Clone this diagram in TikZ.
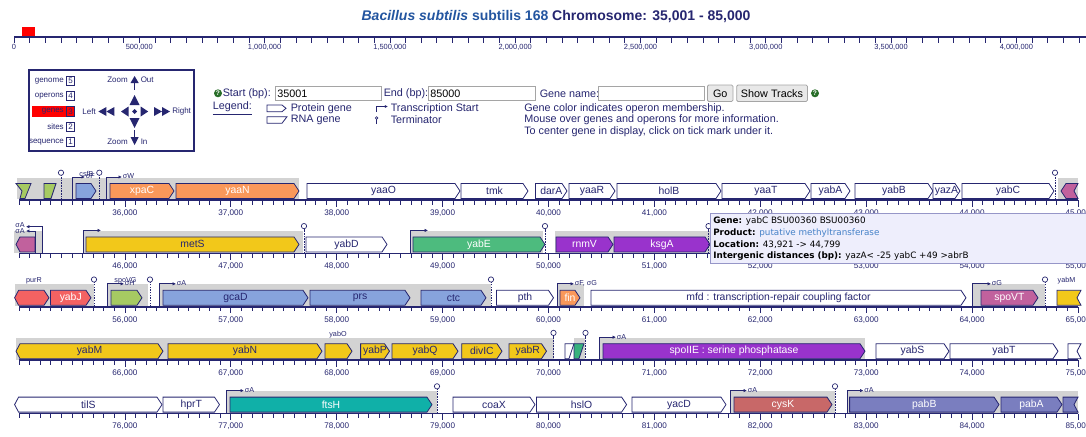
\documentclass[tikz,border=0pt]{standalone}
\usepackage{fontspec}
\setmainfont{Liberation Sans}
\newfontfamily\dvs{DejaVu Sans}
\usetikzlibrary{arrows.meta}
\definecolor{nv}{RGB}{38,38,112}
\definecolor{opg}{RGB}{211,211,211}
\definecolor{cor}{RGB}{250,152,90}
\definecolor{cye}{RGB}{242,200,26}
\definecolor{clb}{RGB}{135,163,220}
\definecolor{clg}{RGB}{166,202,98}
\definecolor{cgr}{RGB}{77,187,126}
\definecolor{cpu}{RGB}{153,51,204}
\definecolor{cpk}{RGB}{193,97,157}
\definecolor{crd}{RGB}{244,98,98}
\definecolor{ctl}{RGB}{16,176,168}
\definecolor{cck}{RGB}{200,104,104}
\definecolor{cpb}{RGB}{122,126,191}
\definecolor{crg}{RGB}{55,178,125}
\definecolor{tblue}{RGB}{35,85,160}
\definecolor{ttf}{RGB}{238,238,252}
\definecolor{ttb}{RGB}{150,150,200}
\definecolor{qgreen}{RGB}{40,110,40}
\definecolor{pblue}{RGB}{70,130,200}
\definecolor{inpb}{RGB}{165,165,165}
\definecolor{btnf}{RGB}{232,232,232}
\tikzset{
  x=0.75pt, y=-0.75pt,
  gl/.style={draw=nv, line width=0.6pt, line join=miter},
  gtext/.style={font=\fontsize{7.8}{8}\selectfont, inner sep=0pt, anchor=center},
  small/.style={font=\fontsize{5.4}{6}\selectfont, text=nv, inner sep=0pt},
  ticklab/.style={font=\fontsize{6.1}{7}\selectfont, text=nv, inner sep=0pt},
  toplab/.style={font=\fontsize{5.6}{6}\selectfont, text=nv, inner sep=0pt},
  prom/.style={draw=nv, line width=0.5pt, -{Latex[length=2.6pt,width=2.6pt]}},
  termst/.style={draw=nv, line width=0.5pt, dash pattern=on 1.2pt off 0.8pt},
  pl/.style={font=\fontsize{6}{7}\selectfont, text=nv, inner sep=0pt},
  ft/.style={font=\fontsize{8.1}{9}\selectfont, text=nv, inner sep=0pt},
  inp/.style={draw=inpb, fill=white, line width=0.6pt},
  btn/.style={draw=inpb, fill=btnf, line width=0.6pt, rounded corners=1pt},
  tt/.style={font=\dvs\fontsize{6.6}{7}\selectfont, text=black, inner sep=0pt, anchor=west},
}
\newcommand\gene[9]{%
  \pgfmathsetmacro\gT{#1-16.5}%
  \pgfmathsetmacro\gB{#1-1.5}%
  \pgfmathsetmacro\gM{#1-9}%
  \edef\gpath{\ifcase#4 (#2,\gT)\or(#2+5,\gT)\or(#2+4,\gT)\or(#2,\gT)\fi
   \ifcase#5 --(#3,\gT)--(#3,\gB)\or--(#3-5,\gT)--(#3,\gM)--(#3-5,\gB)\or--(#3,\gT)--(#3-4,\gM)--(#3,\gB)\or--(#3-4,\gT)--(#3,\gM)--(#3-4,\gB)\fi
   \ifcase#4 --(#2,\gB)\or--(#2+5,\gB)--(#2,\gM)\or--(#2+4,\gB)--(#2,\gM)\or--(#2,\gB)--(#2+4,\gM)\fi
   --cycle}%
  \draw[gl,fill=#6] \gpath;%
  \node[gtext,text=#7] (#9) at ({(#2+#3)/2},\gM) {#8};%
}
\newcommand\rna[4]{\draw[gl,fill=#4] (#2,#1-16.5) -- (#3,#1-16.5) -- (#3-5,#1-1.5) -- (#2,#1-1.5) -- cycle;}
\newcommand\opr[3]{\fill[opg] (#2,#1-22.5) rectangle (#3,#1-0.6);}
\newcommand\prm[5]{\draw[prom] (#2,#1) -- (#2,#1-23) -- (#3,#1-23);
  \node[small,anchor=west] (#5) at (#3+0.6,#1-23.6) {#4};}
\newcommand\trm[2]{\draw[termst] (#2,#1) -- (#2,#1-24.6);
  \draw[nv,line width=0.5pt,fill=white] (#2,#1-27.3) circle[radius=2pt];}
\newcommand\trackruler[2]{%
  \draw[nv,line width=1.3pt] (19,#1) -- (1078,#1);
  \foreach \i in {0,...,100}{\draw[nv,line width=0.5pt] ({19+\i*10.59},#1) -- ({19+\i*10.59},#1+4.5);}
  \foreach \i in {1,...,10}{\pgfmathtruncatemacro\kk{#2+\i}%
    \draw[nv,line width=0.6pt] ({19+\i*105.9},#1) -- ({19+\i*105.9},#1+6.5);
    \node[ticklab] (t\kk) at ({19+\i*105.9},#1+13) {\kk,000};}%
}
\begin{document}
\begin{tikzpicture}
\useasboundingbox (0,0) rectangle (1086,436);
\fill[white] (0,0) rectangle (1086,436);

% ---------- title and genome ruler
\node[inner sep=0pt, font=\fontsize{10.5}{12}\selectfont\bfseries] (title) at (556,16.5)
  {\textcolor{tblue}{\itshape Bacillus subtilis} \textcolor{tblue}{subtilis 168} \textcolor{nv}{Chromosome: 35,001 - 85,000}};
\fill[red] (22,26.5) rectangle (35,37);
\draw[nv,line width=2pt] (14,37) -- (1086,37);
\foreach \i in {0,...,68}{\draw[nv,line width=0.5pt] ({14+\i*15.66},38) -- ({14+\i*15.66},42.5);}
\foreach \i/\t in {0/0,1/{500,000},2/{1,000,000},3/{1,500,000},4/{2,000,000},5/{2,500,000},6/{3,000,000},7/{3,500,000},8/{4,000,000}}
  {\node[toplab] (r\i) at ({14+\i*125.3},47) {\t};}

% ---------- navigation panel
\draw[nv,line width=0.8pt] (29,70) rectangle (194,151);
\fill[red] (32,106.3) rectangle (74.5,116.5);
\foreach \t/\n/\yy in {genome/5/80.7,operons/4/96,genes/3/111.4,sites/2/126.6,sequence/1/141.9}{
  \node[pl,anchor=east] (pn\n) at (64,\yy) {\t};
  \draw[nv,line width=0.6pt] (66.5,\yy-4.6) rectangle (74.5,\yy+4.6);
  \node[pl] (pb\n) at (70.5,\yy) {\n};
}
\node[pl,anchor=east] (zo) at (128,80) {Zoom};
\fill[nv] (130.5,83) -- (138.7,83) -- (134.6,76) -- cycle;
\fill[nv] (133.8,82) rectangle (135.4,89.5);
\node[pl,anchor=west] (zout) at (140.5,80) {Out};
\node[pl,anchor=east] (lft) at (96,111.5) {Left};
\fill[nv] (98.4,111.5) -- (106.4,107) -- (106.4,116) -- cycle;
\fill[nv] (106.4,111.5) -- (114.4,107) -- (114.4,116) -- cycle;
\fill[nv] (121,111.5) -- (128.5,106.5) -- (128.5,116.5) -- cycle;
\fill[nv] (134.6,109) -- (137.1,111.5) -- (134.6,114) -- (132.1,111.5) -- cycle;
\fill[nv] (148.2,111.5) -- (140.7,106.5) -- (140.7,116.5) -- cycle;
\fill[nv] (162,111.5) -- (154,107) -- (154,116) -- cycle;
\fill[nv] (170,111.5) -- (162,107) -- (162,116) -- cycle;
\node[pl,anchor=west] (rgt) at (172,111.5) {Right};
\fill[nv] (129.6,105) -- (139.6,105) -- (134.6,95) -- cycle;
\fill[nv] (129.6,118) -- (139.6,118) -- (134.6,128) -- cycle;
\fill[nv] (133.8,130) rectangle (135.4,138);
\fill[nv] (130.5,137) -- (138.7,137) -- (134.6,145) -- cycle;
\node[pl,anchor=east] (zi) at (128,141.7) {Zoom};
\node[pl,anchor=west] (zin) at (140.5,141.7) {In};

% ---------- form
\fill[qgreen] (218,93.3) circle[radius=3pt];
\node[inner sep=0pt,text=white,font=\fontsize{5}{5}\selectfont\bfseries] (q1) at (218,93.3) {?};
\node[ft,anchor=west] (st) at (222.5,93.3) {Start (bp):};
\draw[inp] (275,86) rectangle (381,100.7);
\node[ft,anchor=west,text=black] (v1) at (277,93.3) {35001};
\node[ft,anchor=west] (en) at (383.5,93.3) {End (bp):};
\draw[inp] (428,86) rectangle (535.6,100.7);
\node[ft,anchor=west,text=black] (v2) at (430,93.3) {85000};
\node[ft,anchor=west] (gn) at (539.5,93.3) {Gene name:};
\draw[inp] (598,86) rectangle (704,100.7);
\draw[btn] (707.4,85) rectangle (733,101.5);
\node[ft,text=black] (go) at (720.2,93.3) {Go};
\draw[btn] (736.7,85) rectangle (807.4,101.5);
\node[ft,text=black] (sh) at (772,93.3) {Show Tracks};
\fill[qgreen] (815,93.3) circle[radius=3pt];
\node[inner sep=0pt,text=white,font=\fontsize{5}{5}\selectfont\bfseries] (q2) at (815,93.3) {?};

% ---------- legend
\node[ft,anchor=west] (leg) at (212.5,108.3) {\underline{Legend:}};
\draw[nv,line width=0.6pt] (267,105) -- (282,105) -- (286,108.3) -- (282,111.7) -- (267,111.7) -- cycle;
\node[ft,anchor=west] (lp) at (290.5,108.3) {Protein gene};
\draw[nv,line width=0.6pt] (267,116.7) -- (287,116.7) -- (282,123.3) -- (267,123.3) -- cycle;
\node[ft,anchor=west] (lr) at (290.5,120) {RNA gene};
\draw[nv,line width=0.6pt,-{Latex[length=2.4pt,width=2.4pt]}] (376,112) -- (376,106.5) -- (388,106.5);
\node[ft,anchor=west] (lt) at (390.5,108.3) {Transcription Start};
\draw[nv,line width=0.5pt] (376.6,124) -- (376.6,119.3);
\draw[nv,line width=0.5pt,fill=white] (376.6,118) circle[radius=1pt];
\node[ft,anchor=west] (lx) at (390.5,120) {Terminator};
\node[ft,anchor=west] (i1) at (524,108.3) {Gene color indicates operon membership.};
\node[ft,anchor=west] (i2) at (524,120) {Mouse over genes and operons for more information.};
\node[ft,anchor=west] (i3) at (524,131.3) {To center gene in display, click on tick mark under it.};

% ================= ROW 1 (base 200)
\opr{200}{17}{299}
\opr{200}{1058}{1078}
\trackruler{200}{35}
\draw[gl,fill=clg] (16,183.5) -- (31,183.5) -- (25,198.5) -- (20,198.5) -- (22,191) -- cycle;
\rna{200}{44}{56}{clg}
\trm{200}{61}
\prm{200}{72}{85}{σF}{pF1}
\gene{200}{76}{96}{0}{1}{clb}{nv}{}{g-csfB}
\node[small] (l-csfB) at (86.5,174) {csfB};
\trm{200}{99.3}
\prm{200}{106}{122}{σW}{pW1}
\gene{200}{110}{174}{0}{1}{cor}{white}{xpaC}{g-xpaC}
\gene{200}{176}{299}{0}{1}{cor}{white}{yaaN}{g-yaaN}
\gene{200}{307}{460}{0}{1}{white}{nv}{yaaO}{g-yaaO}
\gene{200}{461}{528}{0}{1}{white}{nv}{tmk}{g-tmk}
\gene{200}{535.5}{567}{0}{1}{white}{nv}{darA}{g-darA}
\gene{200}{569}{615}{0}{1}{white}{nv}{yaaR}{g-yaaR}
\gene{200}{617}{721}{0}{1}{white}{nv}{holB}{g-holB}
\gene{200}{722}{810}{0}{1}{white}{nv}{yaaT}{g-yaaT}
\gene{200}{811}{850}{0}{1}{white}{nv}{yabA}{g-yabA}
\gene{200}{855}{933}{0}{1}{white}{nv}{yabB}{g-yabB}
\gene{200}{933}{960}{0}{1}{white}{nv}{yazA}{g-yazA}
\gene{200}{962}{1054}{0}{1}{white}{nv}{yabC}{g-yabC}
\trm{200}{1055}
\gene{200}{1061}{1078}{1}{2}{cpk}{white}{}{g-abrB1}

% ================= ROW 2 (base 253.4)
\opr{253.4}{14}{42}
\opr{253.4}{83.6}{303}
\opr{253.4}{410}{543}
\opr{253.4}{555}{712}
\trackruler{253.4}{45}
\gene{253.4}{16}{35}{2}{0}{cpk}{white}{}{g-abrB2}
\draw[prom] (42,253.4) -- (42,226.7) -- (26,226.7);
\node[small,anchor=east] (sA1) at (25,225.2) {σA};
\draw[prom] (35,253.4) -- (35,231) -- (26,231);
\node[small,anchor=east] (sA2) at (25,231) {σA};
\prm{253.4}{83.6}{101}{}{pN1}
\gene{253.4}{86}{299}{0}{1}{cye}{nv}{metS}{g-metS}
\trm{253.4}{304}
\gene{253.4}{306}{387}{0}{1}{white}{nv}{yabD}{g-yabD}
\prm{253.4}{410}{428}{}{pN2}
\gene{253.4}{413}{545}{0}{1}{cgr}{white}{yabE}{g-yabE}
\trm{253.4}{545}
\gene{253.4}{556}{613}{0}{1}{cpu}{white}{rnmV}{g-rnmV}
\gene{253.4}{614}{710}{0}{1}{cpu}{white}{ksgA}{g-ksgA}
\trm{253.4}{708.5}

% ================= ROW 3 (base 306.8)
\opr{306.8}{14.6}{94}
\opr{306.8}{107}{148}
\opr{306.8}{159.6}{491}
\opr{306.8}{557}{584}
\opr{306.8}{972}{1045}
\trackruler{306.8}{55}
\node[small] (l-purR) at (34,280.5) {purR};
\gene{306.8}{14.6}{49}{2}{1}{crd}{white}{}{g-purR}
\gene{306.8}{50.5}{91}{0}{1}{crd}{white}{yabJ}{g-yabJ}
\trm{306.8}{94}
\prm{306.8}{107}{124}{σH}{pH1}
\gene{306.8}{111}{142}{0}{1}{clg}{white}{}{g-spoVG}
\node[small] (l-spoVG) at (125.5,280.5) {spoVG};
\trm{306.8}{150}
\prm{306.8}{159.6}{176}{σA}{pA1}
\gene{306.8}{163}{308}{0}{1}{clb}{nv}{gcaD}{g-gcaD}
\gene{306.8}{310}{410}{0}{1}{clb}{nv}{prs}{g-prs}
\gene{306.8}{421}{486}{0}{1}{clb}{nv}{ctc}{g-ctc}
\trm{306.8}{491}
\gene{306.8}{496.5}{553.5}{0}{1}{white}{nv}{pth}{g-pth}
\prm{306.8}{557}{574}{σF, σG}{pFG}
\gene{306.8}{560}{580}{0}{1}{cor}{white}{fin}{g-fin}
\gene{306.8}{591}{966}{0}{1}{white}{nv}{mfd : transcription-repair coupling factor}{g-mfd}
\prm{306.8}{972}{991}{σG}{pG1}
\gene{306.8}{981}{1038}{0}{1}{cpk}{white}{spoVT}{g-spoVT}
\trm{306.8}{1045}
\gene{306.8}{1057}{1081}{0}{2}{cye}{nv}{}{g-yabM1}
\node[small] (l-yabM) at (1066.5,281) {yabM};

% ================= ROW 4 (base 360.2)
\opr{360.2}{16}{553.5}
\opr{360.2}{574}{585}
\opr{360.2}{599.4}{865}
\trackruler{360.2}{65}
\gene{360.2}{16}{163}{2}{1}{cye}{nv}{yabM}{g-yabM2}
\gene{360.2}{168}{322}{0}{1}{cye}{nv}{yabN}{g-yabN}
\node[small] (l-yabO) at (338,334.3) {yabO};
\gene{360.2}{325}{352}{0}{1}{cye}{nv}{}{g-yabO}
\gene{360.2}{360.6}{389.5}{0}{1}{cye}{nv}{yabP}{g-yabP}
\gene{360.2}{392}{458}{0}{1}{cye}{nv}{yabQ}{g-yabQ}
\gene{360.2}{461.7}{502}{0}{1}{cye}{nv}{divIC}{g-divIC}
\gene{360.2}{509}{546.5}{0}{1}{cye}{nv}{yabR}{g-yabR}
\trm{360.2}{553.5}
\rna{360.2}{565}{574}{white}
\rna{360.2}{574}{584}{crg}
\trm{360.2}{585.5}
\prm{360.2}{599.4}{616}{σA}{pA2}
\gene{360.2}{603}{865}{0}{1}{cpu}{white}{spoIIE : serine phosphatase}{g-spoIIE}
\gene{360.2}{876}{949}{0}{1}{white}{nv}{yabS}{g-yabS}
\gene{360.2}{950}{1058}{0}{1}{white}{nv}{yabT}{g-yabT}
\gene{360.2}{1068}{1081}{0}{2}{white}{nv}{}{g-tilS1}

% ================= ROW 5 (base 413.6)
\opr{413.6}{226.5}{437}
\opr{413.6}{730}{835}
\opr{413.6}{847}{1078}
\trackruler{413.6}{75}
\gene{413.6}{14.6}{162}{2}{1}{white}{nv}{tilS}{g-tilS2}
\gene{413.6}{163}{219.5}{0}{1}{white}{nv}{hprT}{g-hprT}
\prm{413.6}{226.5}{244}{σA}{pA3}
\gene{413.6}{230}{432}{0}{1}{ctl}{white}{ftsH}{g-ftsH}
\trm{413.6}{437}
\gene{413.6}{453}{535}{0}{1}{white}{nv}{coaX}{g-coaX}
\gene{413.6}{536.5}{626.6}{0}{1}{white}{nv}{hslO}{g-hslO}
\gene{413.6}{632}{726}{0}{1}{white}{nv}{yacD}{g-yacD}
\prm{413.6}{730}{747}{σA}{pA4}
\gene{413.6}{734}{832}{0}{1}{cck}{white}{cysK}{g-cysK}
\trm{413.6}{835}
\prm{413.6}{847}{863.5}{σA}{pA5}
\gene{413.6}{849.6}{999}{0}{1}{cpb}{white}{pabB}{g-pabB}
\gene{413.6}{1001}{1062}{0}{1}{cpb}{white}{pabA}{g-pabA}
\gene{413.6}{1063}{1078}{0}{2}{cpb}{white}{}{g-pabC}

% ---------- tooltip
\draw[ttb,fill=ttf,line width=0.6pt] (710,213.3) rectangle (1090,263.3);
\node[tt] (tt1) at (713,221) {\textbf{Gene:} yabC BSU00360 BSU00360};
\node[tt] (tt2) at (713,232.7) {\textbf{Product:} \textcolor{pblue}{putative methyltransferase}};
\node[tt] (tt3) at (713,244.3) {\textbf{Location:} 43,921 -> 44,799};
\node[tt] (tt4) at (713,256) {\textbf{Intergenic distances (bp):} yazA< -25 yabC +49 >abrB};
\end{tikzpicture}
\end{document}
